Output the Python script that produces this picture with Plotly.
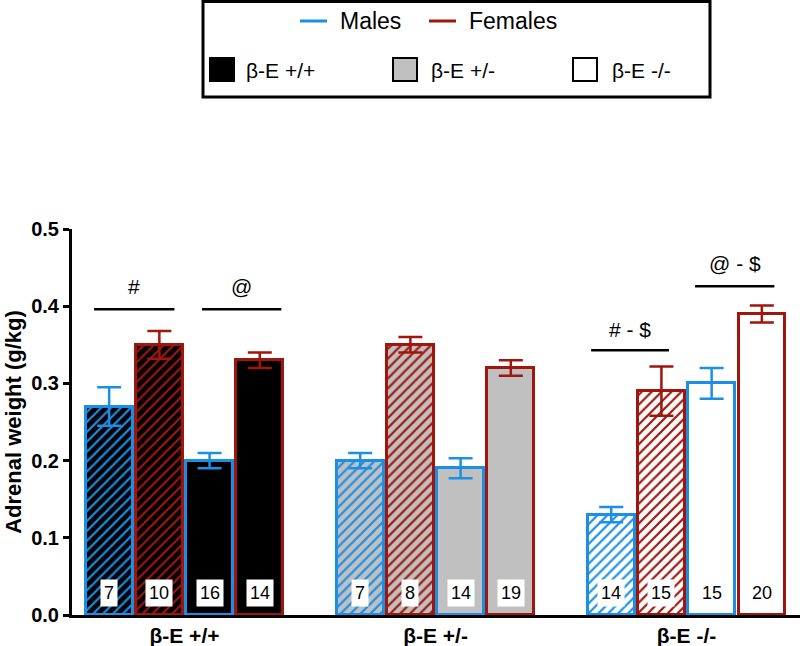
import plotly.graph_objects as go

# groups on the x axis
groups = ["β-E +/+", "β-E +/-", "β-E -/-"]
group_fill = ["black", "#c0c0c0", "white"]

# bar order inside each group: male hatched, female hatched, male solid, female solid
bar_sex = ["Males", "Females", "Males", "Females"]
bar_hatched = [True, True, False, False]

means = [
    [0.27, 0.35, 0.20, 0.33],
    [0.20, 0.35, 0.19, 0.32],
    [0.13, 0.29, 0.30, 0.39],
]
sems = [
    [0.025, 0.018, 0.010, 0.010],
    [0.010, 0.010, 0.013, 0.010],
    [0.010, 0.032, 0.020, 0.011],
]
n_animals = [
    [7, 10, 16, 14],
    [7, 8, 14, 19],
    [14, 15, 15, 20],
]

# significance marks: (x start, x end, line y, label, label y)
sig_marks = [
    (-0.3, 1.3, 0.396, "#", 0.425),
    (1.85, 3.43, 0.396, "@", 0.425),
    (9.6, 11.15, 0.343, "# - $", 0.370),
    (11.67, 13.25, 0.426, "@ - $", 0.455),
]

sex_color = {"Males": "#1a8fe6", "Females": "#a0160c"}
FONT = "Arial"

W, H = 800, 646
L, R, T, B = 72, 0, 229, 31


def px(x):
    return (x - L) / (W - L - R)


def py(y):
    return (H - B - y) / (H - T - B)


fig = go.Figure()

for g in range(len(groups)):
    for i in range(4):
        sex = bar_sex[i]
        col = sex_color[sex]
        fill = group_fill[g]
        if bar_hatched[i]:
            pattern = dict(shape="/", fgcolor=col, bgcolor=fill,
                           size=7, solidity=0.32, fillmode="replace")
        else:
            pattern = dict(shape="")
        fig.add_trace(go.Bar(
            x=[g * 5 + i], y=[means[g][i]], width=0.93,
            marker=dict(color=fill, line=dict(color=col, width=3),
                        pattern=pattern),
            error_y=dict(type="data", array=[sems[g][i]], color=col,
                         thickness=2.5, width=12),
            showlegend=False,
        ))
        fig.add_annotation(
            x=g * 5 + i, y=0.0285, text=str(n_animals[g][i]), showarrow=False,
            bgcolor="white", font=dict(family=FONT, size=18, color="black"),
            borderpad=3,
        )

for x0, x1, yl, label, yt in sig_marks:
    fig.add_trace(go.Scatter(
        x=[x0, x1], y=[yl, yl], mode="lines",
        line=dict(color="black", width=2.5), showlegend=False,
    ))
    fig.add_annotation(
        x=(x0 + x1) / 2, y=yt, text=label, showarrow=False,
        font=dict(family=FONT, size=21, color="black"),
    )

# hand drawn legend box above the plot
fig.add_shape(type="rect", xref="paper", yref="paper",
              x0=px(203), x1=px(710), y0=py(97), y1=py(1.5),
              line=dict(color="black", width=3), fillcolor="white")
for sex, x0, xt in [("Males", 300, 338), ("Females", 429, 467)]:
    fig.add_shape(type="line", xref="paper", yref="paper",
                  x0=px(x0), x1=px(x0 + 27), y0=py(21), y1=py(21),
                  line=dict(color=sex_color[sex], width=3))
    fig.add_annotation(xref="paper", yref="paper", x=px(xt), y=py(21),
                       xanchor="left", yanchor="middle", text=sex,
                       showarrow=False,
                       font=dict(family=FONT, size=23, color="black"))
for g, x0, xt in zip(range(3), [210, 393, 573], [244, 429, 610]):
    fig.add_shape(type="rect", xref="paper", yref="paper",
                  x0=px(x0), x1=px(x0 + 24), y0=py(81), y1=py(58),
                  line=dict(color="black", width=2), fillcolor=group_fill[g])
    fig.add_annotation(xref="paper", yref="paper", x=px(xt), y=py(70),
                       xanchor="left", yanchor="middle", text=groups[g],
                       showarrow=False,
                       font=dict(family=FONT, size=21, color="black"))

fig.update_layout(
    width=W, height=H,
    margin=dict(l=L, r=R, t=T, b=B),
    plot_bgcolor="white", paper_bgcolor="white",
    barmode="overlay", bargap=0,
    font=dict(family=FONT, color="black"),
)
fig.update_xaxes(
    range=[-0.74, 13.76],
    tickvals=[g * 5 + 1.5 for g in range(len(groups))],
    ticktext=groups,
    tickfont=dict(family=FONT, size=21, weight="bold"),
    showline=True, linecolor="black", linewidth=3,
    showgrid=False, zeroline=False, ticks="",
)
fig.update_yaxes(
    range=[0, 0.5], dtick=0.1, tickformat=".1f",
    title=dict(text="Adrenal weight (g/kg)",
               font=dict(family=FONT, size=22, weight="bold"), standoff=4),
    tickfont=dict(family=FONT, size=20, weight="bold"),
    showline=True, linecolor="black", linewidth=3,
    ticks="outside", ticklen=6, tickwidth=3, tickcolor="black",
    showgrid=False, zeroline=False,
)

fig.write_html("out.html", config={"displayModeBar": False},
               post_script="document.body.style.margin='0';")
